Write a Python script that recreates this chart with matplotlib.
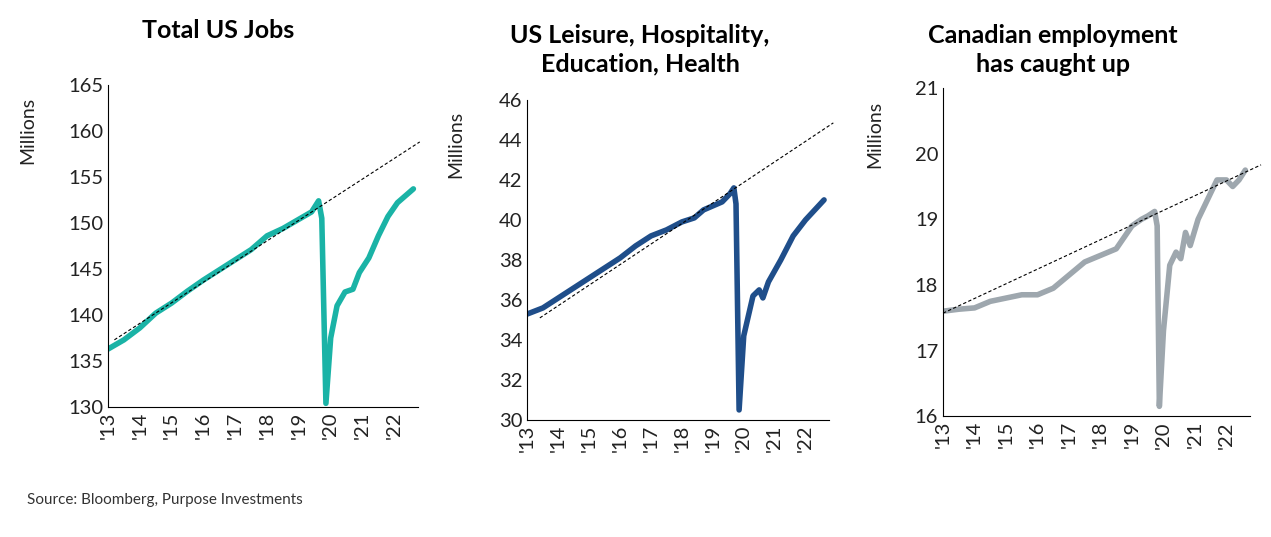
import matplotlib.pyplot as plt

plt.rcParams['font.family'] = ['Lato', 'DejaVu Sans']

# --- Total US jobs (millions)
us_x = [2013.0, 2013.5, 2014.0, 2014.5, 2015.0, 2015.5, 2016.0, 2016.5, 2017.0, 2017.5,
        2018.0, 2018.5, 2019.0, 2019.4, 2019.62, 2019.72, 2019.85, 2020.0, 2020.2, 2020.45,
        2020.7, 2020.9, 2021.2, 2021.5, 2021.8, 2022.1, 2022.4, 2022.6]
us_y = [136.3, 137.3, 138.6, 140.2, 141.3, 142.6, 143.8, 144.9, 146.0, 147.1,
        148.6, 149.4, 150.4, 151.2, 152.4, 150.5, 130.4, 137.5, 141.0, 142.5,
        142.8, 144.6, 146.2, 148.6, 150.7, 152.2, 153.1, 153.7]
us_trend_x = [2013.2, 2022.8]
us_trend_y = [137.3, 158.8]

# --- US leisure, hospitality, education, health (millions)
lh_x = [2013.0, 2013.5, 2014.0, 2014.5, 2015.0, 2015.5, 2016.0, 2016.5, 2017.0, 2017.5,
        2018.0, 2018.4, 2018.7, 2019.0, 2019.3, 2019.55, 2019.68, 2019.75, 2019.85, 2020.0,
        2020.3, 2020.5, 2020.62, 2020.8, 2021.2, 2021.6, 2022.0, 2022.3, 2022.6]
lh_y = [35.3, 35.6, 36.1, 36.6, 37.1, 37.6, 38.1, 38.7, 39.2, 39.5,
        39.9, 40.1, 40.5, 40.7, 40.9, 41.3, 41.6, 40.8, 30.5, 34.2,
        36.2, 36.5, 36.1, 36.9, 38.0, 39.2, 40.0, 40.5, 41.0]
lh_trend_x = [2013.4, 2022.9]
lh_trend_y = [35.1, 44.85]

# --- Canadian employment (millions)
ca_x = [2013.0, 2013.5, 2014.0, 2014.5, 2015.0, 2015.5, 2016.0, 2016.5, 2017.0, 2017.5,
        2018.0, 2018.5, 2019.0, 2019.3, 2019.5, 2019.72, 2019.8, 2019.87, 2020.0, 2020.2,
        2020.4, 2020.55, 2020.7, 2020.85, 2021.1, 2021.3, 2021.5, 2021.7, 2022.0, 2022.2,
        2022.4, 2022.6]
ca_y = [17.6, 17.63, 17.65, 17.75, 17.8, 17.85, 17.85, 17.95, 18.15, 18.35,
        18.45, 18.55, 18.9, 19.0, 19.05, 19.12, 18.9, 16.15, 17.3, 18.3,
        18.5, 18.4, 18.8, 18.6, 19.0, 19.2, 19.4, 19.6, 19.6, 19.5,
        19.6, 19.75]
ca_trend_x = [2013.0, 2023.1]
ca_trend_y = [17.57, 19.83]

ticks = list(range(2013, 2023))
tick_labels = ["'%02d" % (t - 2000) for t in ticks]

panels = [
    ([0.085, 0.242, 0.244, 0.600], 'Total US Jobs', (218, 30), -0.23, us_x, us_y,
     us_trend_x, us_trend_y, '#1ab3a6', (130, 165), range(130, 166, 5)),
    ([0.415, 0.218, 0.237, 0.596], 'US Leisure, Hospitality,\nEducation, Health', (640, 50), -0.21,
     lh_x, lh_y, lh_trend_x, lh_trend_y, '#1f4e8a', (30, 46), range(30, 47, 2)),
    ([0.742, 0.225, 0.2415, 0.611], 'Canadian employment\nhas caught up', (1053, 50), -0.195,
     ca_x, ca_y, ca_trend_x, ca_trend_y, '#9ea7ae', (16, 21), range(16, 22)),
]

fig = plt.figure(figsize=(12.71, 5.37), dpi=100)
for rect, title, tpos, lx, x, y, tx, ty, col, ylim, yt in panels:
    ax = fig.add_axes(rect)
    ax.plot(x, y, color=col, lw=4, solid_capstyle='round')
    ax.plot(tx, ty, color='black', lw=0.8, ls='--', dashes=(3, 2), clip_on=False)
    ax.set_ylim(*ylim)
    ax.set_xlim(2013, 2022.75)
    ax.set_yticks(list(yt))
    ax.set_xticks(ticks)
    ax.set_xticklabels(tick_labels, rotation=90)
    ax.tick_params(labelsize=14.5, length=0, colors='#222222')
    ax.set_ylabel('Millions', fontsize=14, color='#222222')
    ax.yaxis.set_label_coords(lx, 0.86)
    for s in ['top', 'right']:
        ax.spines[s].set_visible(False)
    fig.text(tpos[0] / 1271, 1 - tpos[1] / 537, title, fontsize=18, fontweight='bold',
             ha='center', va='center', linespacing=1.3)

fig.text(0.021, 1 - 500 / 537, 'Source: Bloomberg, Purpose Investments', fontsize=11,
         va='center', color='#333333')
fig.savefig('out.png', dpi=100)
